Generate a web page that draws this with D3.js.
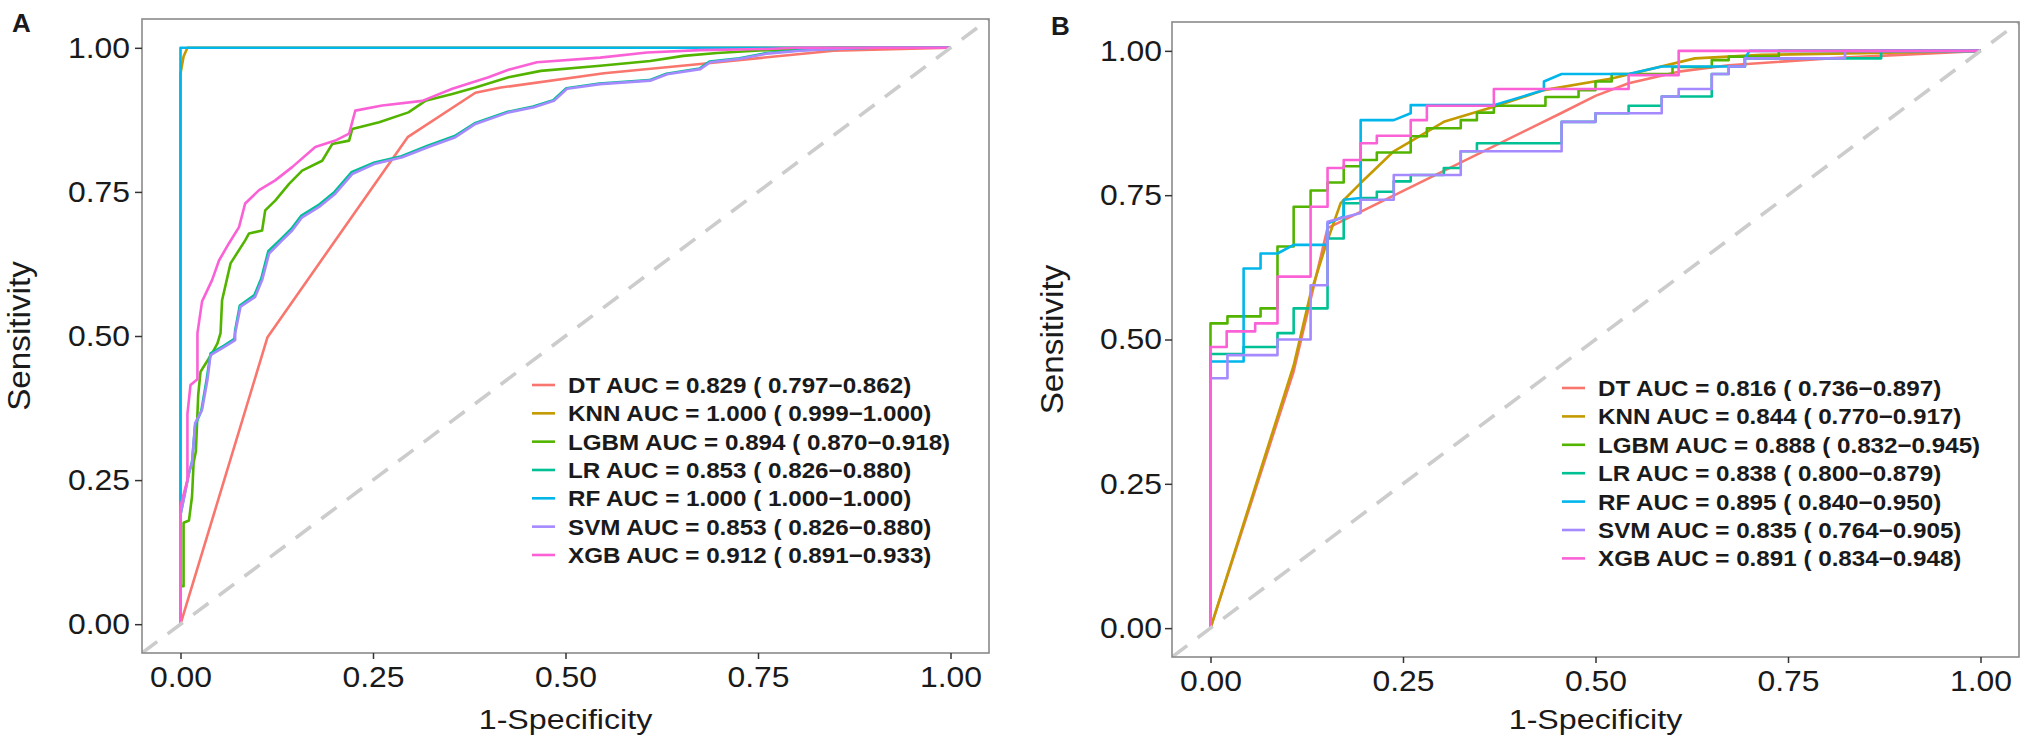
<!DOCTYPE html>
<html>
<head>
<meta charset="utf-8">
<script src="https://cdn.jsdelivr.net/npm/d3@7/dist/d3.min.js"></script>
<style>
  html, body { margin: 0; padding: 0; background: #fff; }
  svg text { font-family: "Liberation Sans", Arial, sans-serif; fill: #1a1a1a; }
</style>
</head>
<body>
<svg id="roc_svg" width="2028" height="741"></svg>
<script>
// model names and ggplot hue colours
const models = ['DT', 'KNN', 'LGBM', 'LR', 'RF', 'SVM', 'XGB'];
const modelColors = ['#F8766D', '#C49A00', '#53B400', '#00C094', '#00B6EB', '#A58AFF', '#FB61D7'];
const tickValues = [0, 0.25, 0.5, 0.75, 1];

// AUC with 95% CI, training set (A) and test set (B)
const aucA = ['0.829', '1.000', '0.894', '0.853', '1.000', '0.853', '0.912'];
const ciLowA = ['0.797', '0.999', '0.870', '0.826', '1.000', '0.826', '0.891'];
const ciHighA = ['0.862', '1.000', '0.918', '0.880', '1.000', '0.880', '0.933'];
const aucB = ['0.816', '0.844', '0.888', '0.838', '0.895', '0.835', '0.891'];
const ciLowB = ['0.736', '0.770', '0.832', '0.800', '0.840', '0.764', '0.834'];
const ciHighB = ['0.897', '0.917', '0.945', '0.879', '0.950', '0.905', '0.948'];

// ROC points [1-specificity, sensitivity], panel A (training)
const trainDT = [[0,0],[0.113,0.498],[0.295,0.845],[0.383,0.922],[0.416,0.931],[0.55,0.956],[0.675,0.972],[0.848,0.995],[1,1]];
const trainKNN = [[0,0],[0,0.955],[0.004,0.985],[0.009,1],[1,1]];
const trainLGBM = [[0,0],[0,0.066],[0.004,0.066],[0.004,0.176],[0.011,0.18],[0.015,0.222],[0.017,0.28],[0.02,0.3],[0.023,0.398],[0.026,0.438],[0.041,0.47],[0.048,0.487],[0.052,0.505],[0.054,0.562],[0.065,0.626],[0.084,0.666],[0.089,0.678],[0.106,0.683],[0.11,0.718],[0.123,0.735],[0.141,0.764],[0.158,0.787],[0.184,0.804],[0.197,0.833],[0.219,0.839],[0.223,0.859],[0.258,0.871],[0.296,0.888],[0.318,0.908],[0.353,0.92],[0.383,0.931],[0.426,0.949],[0.468,0.96],[0.545,0.969],[0.61,0.977],[0.653,0.986],[0.697,0.991],[0.762,0.996],[0.85,1],[1,1]];
const trainLR = [[0,0],[0,0.19],[0.006,0.23],[0.011,0.262],[0.015,0.282],[0.019,0.345],[0.027,0.37],[0.034,0.425],[0.039,0.47],[0.056,0.483],[0.07,0.495],[0.071,0.51],[0.077,0.553],[0.096,0.571],[0.105,0.6],[0.114,0.647],[0.131,0.669],[0.144,0.686],[0.157,0.709],[0.179,0.727],[0.2,0.75],[0.222,0.784],[0.252,0.801],[0.287,0.812],[0.321,0.83],[0.356,0.847],[0.382,0.869],[0.425,0.889],[0.458,0.898],[0.484,0.909],[0.501,0.93],[0.544,0.938],[0.609,0.944],[0.631,0.955],[0.674,0.964],[0.687,0.976],[0.726,0.982],[0.761,0.991],[0.804,0.996],[0.847,0.998],[0.9,1],[1,1]];
const trainRF = [[0,0],[0,1],[1,1]];
const trainSVM = [[0,0],[0,0.19],[0.006,0.228],[0.011,0.263],[0.015,0.28],[0.019,0.349],[0.028,0.372],[0.035,0.424],[0.039,0.467],[0.058,0.482],[0.071,0.493],[0.071,0.505],[0.078,0.551],[0.097,0.568],[0.106,0.597],[0.115,0.643],[0.132,0.666],[0.145,0.683],[0.158,0.706],[0.18,0.724],[0.201,0.747],[0.223,0.781],[0.253,0.799],[0.288,0.81],[0.322,0.828],[0.357,0.845],[0.383,0.868],[0.426,0.888],[0.459,0.897],[0.485,0.908],[0.502,0.929],[0.545,0.937],[0.61,0.943],[0.632,0.954],[0.675,0.963],[0.688,0.975],[0.727,0.981],[0.762,0.99],[0.805,0.995],[0.848,0.998],[0.9,1],[1,1]];
const trainXGB = [[0,0],[0,0.205],[0.009,0.25],[0.009,0.365],[0.013,0.415],[0.022,0.425],[0.022,0.505],[0.028,0.56],[0.041,0.597],[0.05,0.631],[0.063,0.661],[0.076,0.689],[0.084,0.73],[0.102,0.753],[0.123,0.77],[0.145,0.793],[0.175,0.828],[0.201,0.839],[0.219,0.851],[0.227,0.891],[0.262,0.9],[0.314,0.908],[0.353,0.929],[0.4,0.949],[0.426,0.962],[0.463,0.975],[0.545,0.983],[0.606,0.992],[0.675,0.996],[0.762,0.998],[0.8,1],[1,1]];

// ROC points, panel B (test)
const testDT = [[0,0],[0.108,0.445],[0.152,0.693],[0.455,0.892],[0.5,0.922],[0.543,0.944],[0.608,0.964],[0.673,0.975],[0.803,0.987],[1,1]];
const testKNN = [[0,0],[0.108,0.455],[0.13,0.58],[0.152,0.672],[0.169,0.736],[0.195,0.771],[0.238,0.826],[0.303,0.877],[0.368,0.903],[0.433,0.932],[0.521,0.952],[0.629,0.987],[0.716,0.993],[0.845,0.996],[1,1]];
const testLGBM = [[0,0],[0,0.528],[0.022,0.528],[0.022,0.54],[0.065,0.54],[0.065,0.554],[0.087,0.554],[0.087,0.661],[0.108,0.661],[0.108,0.73],[0.13,0.73],[0.13,0.758],[0.152,0.758],[0.152,0.772],[0.173,0.772],[0.173,0.8],[0.195,0.8],[0.195,0.811],[0.216,0.811],[0.216,0.824],[0.26,0.824],[0.26,0.852],[0.281,0.852],[0.281,0.866],[0.325,0.866],[0.325,0.88],[0.346,0.88],[0.346,0.893],[0.368,0.893],[0.368,0.905],[0.435,0.905],[0.435,0.92],[0.478,0.92],[0.478,0.932],[0.5,0.932],[0.5,0.947],[0.521,0.947],[0.521,0.96],[0.6,0.96],[0.6,0.972],[0.651,0.972],[0.651,0.984],[0.673,0.984],[0.673,0.99],[0.738,0.99],[0.738,1],[1,1]];
const testLR = [[0,0],[0,0.475],[0.043,0.475],[0.043,0.487],[0.087,0.487],[0.087,0.511],[0.108,0.511],[0.108,0.554],[0.152,0.554],[0.152,0.675],[0.173,0.675],[0.173,0.736],[0.195,0.736],[0.195,0.745],[0.216,0.745],[0.216,0.756],[0.238,0.756],[0.238,0.774],[0.26,0.774],[0.26,0.785],[0.303,0.785],[0.303,0.797],[0.325,0.797],[0.325,0.826],[0.346,0.826],[0.346,0.84],[0.456,0.84],[0.456,0.877],[0.5,0.877],[0.5,0.892],[0.543,0.892],[0.543,0.905],[0.586,0.905],[0.586,0.921],[0.651,0.921],[0.651,0.96],[0.673,0.96],[0.673,0.973],[0.694,0.973],[0.694,0.987],[0.871,0.987],[0.871,1],[1,1]];
const testRF = [[0,0],[0,0.462],[0.043,0.462],[0.043,0.623],[0.065,0.623],[0.065,0.649],[0.087,0.649],[0.108,0.664],[0.152,0.664],[0.152,0.701],[0.173,0.713],[0.173,0.742],[0.195,0.745],[0.195,0.88],[0.238,0.88],[0.26,0.892],[0.26,0.906],[0.368,0.906],[0.433,0.932],[0.433,0.947],[0.456,0.96],[0.543,0.96],[0.586,0.973],[0.694,0.973],[0.694,0.987],[0.7,1],[1,1]];
const testSVM = [[0,0],[0,0.433],[0.022,0.433],[0.022,0.473],[0.087,0.473],[0.087,0.5],[0.13,0.5],[0.13,0.594],[0.152,0.594],[0.152,0.704],[0.195,0.719],[0.195,0.742],[0.238,0.742],[0.238,0.785],[0.325,0.785],[0.325,0.826],[0.456,0.826],[0.456,0.877],[0.5,0.877],[0.5,0.892],[0.586,0.892],[0.586,0.921],[0.608,0.921],[0.608,0.934],[0.651,0.934],[0.651,0.96],[0.673,0.96],[0.673,0.973],[0.694,0.973],[0.694,0.987],[0.824,0.987],[0.824,1],[1,1]];
const testXGB = [[0,0],[0,0.487],[0.021,0.487],[0.021,0.514],[0.058,0.514],[0.058,0.528],[0.087,0.528],[0.087,0.609],[0.13,0.609],[0.13,0.73],[0.152,0.73],[0.152,0.797],[0.173,0.797],[0.173,0.811],[0.195,0.811],[0.195,0.84],[0.216,0.84],[0.216,0.853],[0.26,0.853],[0.26,0.88],[0.281,0.88],[0.281,0.905],[0.368,0.905],[0.368,0.934],[0.543,0.934],[0.543,0.958],[0.608,0.958],[0.608,1],[1,1]];

const trainCurves = [trainDT, trainKNN, trainLGBM, trainLR, trainRF, trainSVM, trainXGB];
const testCurves = [testDT, testKNN, testLGBM, testLR, testRF, testSVM, testXGB];

// Set layout variables
const svg = d3.select('#roc_svg');
svg.append('rect').attr('width', 2028).attr('height', 741).attr('fill', '#fff');
const stretch = 1.1; // the glyphs in the picture are a bit wider than Arial

const panels = [
    { tag: 'A', tagX: 12, tagY: 32, left: 142, top: 19, right: 989, bottom: 653,
      curves: trainCurves, auc: aucA, lo: ciLowA, hi: ciHighA,
      legX: 532, legY: 385, legStep: 28.33, yTitleX: 30, yPad: 12 },
    { tag: 'B', tagX: 1051, tagY: 35, left: 1172, top: 22, right: 2019, bottom: 657,
      curves: testCurves, auc: aucB, lo: ciLowB, hi: ciHighB,
      legX: 1562, legY: 388, legStep: 28.4, yTitleX: 1063, yPad: 10 }
];

panels.forEach((p, pi) => drawPanel(p, pi));

function drawPanel(p, pi) {
    let xScale = d3.scaleLinear().domain([-0.05, 1.05]).range([p.left, p.right]);
    let yScale = d3.scaleLinear().domain([-0.05, 1.05]).range([p.bottom, p.top]);

    let clipId = 'clip-' + pi;
    svg.append('clipPath').attr('id', clipId)
        .append('rect')
        .attr('x', p.left).attr('y', p.top)
        .attr('width', p.right - p.left).attr('height', p.bottom - p.top);

    // ROC curves, drawn in legend order
    let line = d3.line()
        .x(d => xScale(d[0]))
        .y(d => yScale(d[1]));
    let g = svg.append('g').attr('clip-path', `url(#${clipId})`);
    g.selectAll('path.roc')
        .data(p.curves)
        .join('path')
        .classed('roc', true)
        .attr('d', line)
        .attr('fill', 'none')
        .attr('stroke', (d, i) => modelColors[i])
        .attr('stroke-width', 2.6)
        .attr('stroke-linejoin', 'round');

    // reference diagonal
    g.append('path')
        .attr('d', line([[-0.05, -0.05], [1.05, 1.05]]))
        .attr('stroke', '#cccccc')
        .attr('stroke-width', 3.6)
        .attr('stroke-dasharray', '19,13')
        .attr('fill', 'none');

    // panel border
    svg.append('rect')
        .attr('x', p.left).attr('y', p.top)
        .attr('width', p.right - p.left).attr('height', p.bottom - p.top)
        .attr('fill', 'none')
        .attr('stroke', '#8a8a8a')
        .attr('stroke-width', 1.6);

    // axes
    let xAxisG = svg.append('g')
        .attr('transform', `translate(0,${p.bottom})`)
        .call(d3.axisBottom(xScale).tickValues(tickValues).tickFormat(d3.format('.2f')).tickSize(6).tickPadding(7));
    let yAxisG = svg.append('g')
        .attr('transform', `translate(${p.left},0)`)
        .call(d3.axisLeft(yScale).tickValues(tickValues).tickFormat(d3.format('.2f')).tickSize(7).tickPadding(p.yPad - 7));
    [xAxisG, yAxisG].forEach(a => {
        a.select('.domain').remove();
        a.selectAll('.tick line').attr('stroke', '#333').attr('stroke-width', 1.5);
        a.selectAll('.tick text')
            .style('font-size', '29px')
            .attr('fill', '#1a1a1a');
    });
    xAxisG.selectAll('.tick text').attr('transform', `scale(${stretch},1)`);
    yAxisG.selectAll('.tick text')
        .attr('x', -p.yPad / stretch)
        .attr('transform', `scale(${stretch},1)`);

    // axis titles
    svg.append('text')
        .attr('transform', `translate(${(p.left + p.right) / 2},729) scale(1.15,1)`)
        .attr('text-anchor', 'middle')
        .style('font-size', '28px')
        .text('1-Specificity');
    svg.append('text')
        .attr('transform', `translate(${p.yTitleX},${(p.top + p.bottom) / 2}) rotate(-90) scale(1.04,1)`)
        .attr('text-anchor', 'middle')
        .style('font-size', '32px')
        .text('Sensitivity');

    // panel tag
    svg.append('text')
        .attr('x', p.tagX).attr('y', p.tagY)
        .style('font-size', '26px')
        .style('font-weight', 'bold')
        .text(p.tag);

    // legend inside the panel
    let leg = svg.append('g');
    leg.selectAll('line')
        .data(models)
        .join('line')
        .attr('x1', p.legX).attr('x2', p.legX + 23)
        .attr('y1', (d, i) => p.legY + i * p.legStep)
        .attr('y2', (d, i) => p.legY + i * p.legStep)
        .attr('stroke', (d, i) => modelColors[i])
        .attr('stroke-width', 2.6);
    leg.selectAll('text')
        .data(models)
        .join('text')
        .attr('transform', (d, i) => `translate(${p.legX + 36},${p.legY + i * p.legStep}) scale(${stretch},1)`)
        .attr('dy', '0.36em')
        .style('font-size', '22px')
        .style('font-weight', 'bold')
        .text((d, i) => `${d} AUC = ${p.auc[i]} ( ${p.lo[i]}\u2212${p.hi[i]})`);
}
</script>
</body>
</html>
